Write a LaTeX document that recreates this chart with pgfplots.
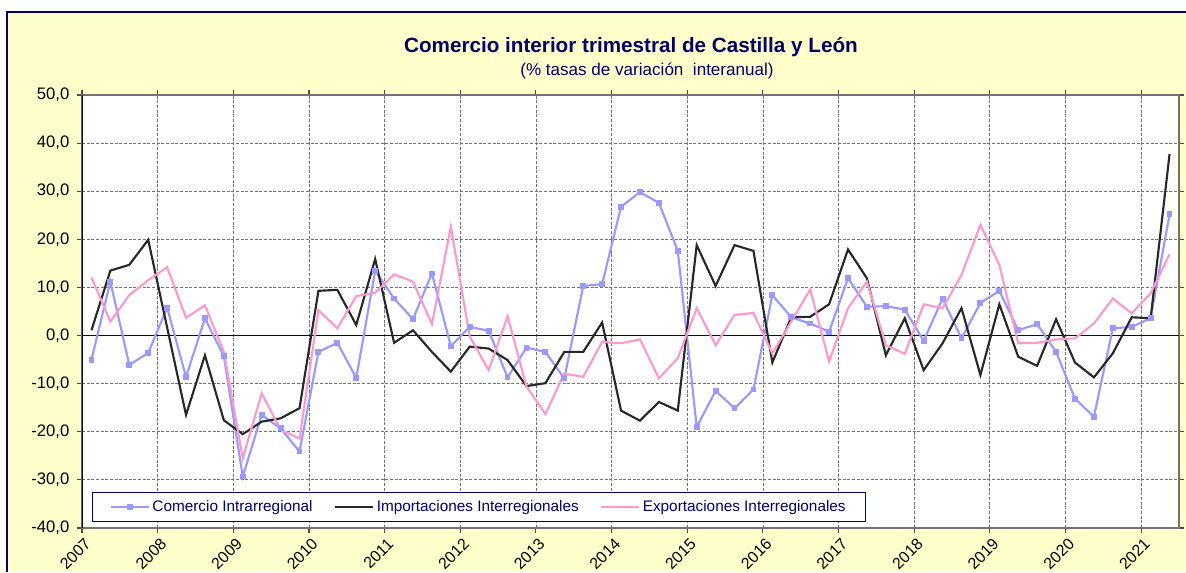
\documentclass[border=0pt]{standalone}
\usepackage{fontspec}
\setmainfont{Liberation Sans}
\usepackage{pgfplots}
\usepackage{pgfplotstable}
\pgfplotsset{compat=1.18}
\definecolor{bgyellow}{RGB}{255,255,204}
\definecolor{navy}{RGB}{0,0,102}
\definecolor{cblue}{RGB}{153,153,255}
\definecolor{cpink}{RGB}{255,153,204}
\definecolor{cblack}{RGB}{40,40,40}

\pgfplotstableread{
q com imp exp
0 -5.0 1.1 12.1
1 11.2 13.5 2.9
2 -6.1 14.7 8.4
3 -3.6 19.9 11.5
4 5.8 1.7 14.2
5 -8.6 -16.5 3.7
6 3.6 -4.1 6.3
7 -4.3 -17.6 -3.4
8 -29.3 -20.5 -25.5
9 -16.5 -17.9 -12.0
10 -19.3 -17.2 -19.6
11 -24.1 -15.1 -21.4
12 -3.4 9.3 5.3
13 -1.5 9.5 1.5
14 -8.8 2.2 8.2
15 13.5 15.9 8.9
16 7.7 -1.5 12.7
17 3.4 1.1 11.2
18 12.9 -3.4 2.4
19 -2.2 -7.5 22.6
20 1.8 -2.3 -0.2
21 1.0 -2.7 -7.2
22 -8.7 -5.1 4.0
23 -2.5 -10.5 -10.6
24 -3.4 -9.9 -16.3
25 -8.9 -3.4 -7.9
26 10.3 -3.4 -8.6
27 10.7 2.7 -1.3
28 26.8 -15.6 -1.6
29 29.8 -17.7 -0.8
30 27.6 -13.8 -8.9
31 17.6 -15.6 -4.7
32 -19.0 18.8 5.7
33 -11.5 10.3 -2.0
34 -15.1 18.8 4.3
35 -11.2 17.6 4.7
36 8.4 -5.6 -3.7
37 3.8 3.8 2.9
38 2.5 3.9 9.6
39 0.8 6.5 -5.4
40 11.9 17.9 5.7
41 6.0 11.9 11.2
42 6.1 -4.1 -2.0
43 5.4 3.6 -3.8
44 -1.1 -7.2 6.5
45 7.7 -1.6 5.7
46 -0.6 5.7 12.6
47 6.8 -8.2 23.0
48 9.3 6.5 14.7
49 1.1 -4.4 -1.6
50 2.4 -6.3 -1.5
51 -3.4 3.4 -0.8
52 -13.1 -5.6 -0.6
53 -16.9 -8.7 2.5
54 1.5 -3.7 7.7
55 1.8 3.8 4.6
56 3.6 3.6 8.8
57 25.2 37.7 16.9
}\datatable

\begin{document}
\begin{tikzpicture}[x=0.75pt,y=0.75pt]
\path[use as bounding box] (0,0) rectangle (1186,572);
\fill[bgyellow] (7,0) rectangle (1186,560);
\draw[navy, line width=1.2pt] (7,0) -- (7,560) -- (1186,560);
\node[font=\bfseries\fontsize{15.5}{18}\selectfont, text=navy] at (631,525) {Comercio interior trimestral de Castilla y León};
\node[font=\fontsize{12.8}{15}\selectfont, text=navy] at (647,501) {(\% tasas de variación\ \ interanual)};
\begin{axis}[
  at={(61.5pt,33pt)}, anchor=south west,
  scale only axis, width=822.75pt, height=324.75pt,
  xmin=-0.5, xmax=57.5, ymin=-40, ymax=50,
  ytick={-40,-30,...,50},
  xtick={-0.5,3.5,...,55.5},
  xticklabels={2007,2008,2009,2010,2011,2012,2013,2014,2015,2016,2017,2018,2019,2020,2021},
  axis background/.style={fill=white},
  grid=major,
  major grid style={dash pattern=on 2.2pt off 1.3pt, black!55, line width=0.6pt},
  axis line style={draw=black!55, line width=0.8pt},
  tick align=outside, major tick length=4pt,
  tick style={black!70, line width=0.8pt},
  yticklabel style={font=\fontsize{12.5}{14}\selectfont, xshift=-2pt, /pgf/number format/.cd, fixed, fixed zerofill, precision=1, use comma, assume math mode=true},
  xticklabel style={rotate=45, anchor=north east, font=\fontsize{12}{14}\selectfont, inner sep=1pt, yshift=-2pt, /pgf/number format/assume math mode=true},
  legend style={at={(0.009,0.014)}, anchor=south west, draw=navy, line width=0.8pt, fill=white,
     font=\fontsize{11.5}{13}\selectfont, text=navy, inner xsep=13pt, inner ysep=4pt,
     /tikz/every even column/.append style={column sep=14pt}},
  legend columns=3,
  legend image code/.code={\draw[mark repeat=2,mark phase=2,#1] plot coordinates {(0cm,0cm) (0.5cm,0cm) (1cm,0cm)};},
]
\draw[navy, line width=1.1pt] (axis cs:-0.5,0) -- (axis cs:57.5,0);
\addplot[cblue, line width=1.6pt, mark=square*, mark size=1.4pt, mark options={solid}] table[x=q,y=com] {\datatable};
\addlegendentry{Comercio Intrarregional}
\addplot[cblack, line width=1.6pt, mark=none] table[x=q,y=imp] {\datatable};
\addlegendentry{Importaciones Interregionales}
\addplot[cpink, line width=1.6pt, mark=none] table[x=q,y=exp] {\datatable};
\addlegendentry{Exportaciones Interregionales}
\draw[navy!60!black, line width=1pt] (rel axis cs:0,0) -- (rel axis cs:0,1);
\end{axis}
\end{tikzpicture}
\end{document}
